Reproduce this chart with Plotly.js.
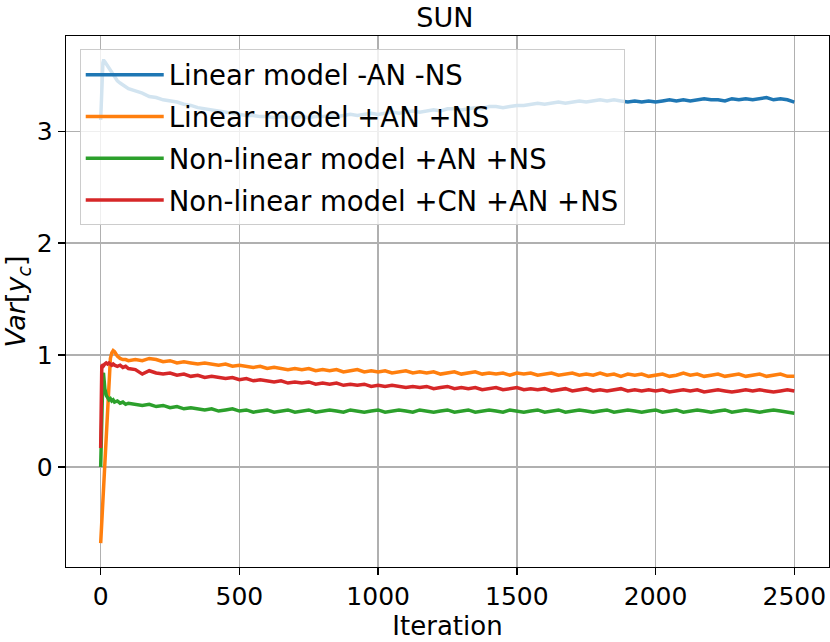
<!DOCTYPE html>
<html>
<head>
<meta charset="utf-8">
<script src="https://cdn.plot.ly/plotly-3.0.1.min.js"></script>
<style>
  html, body { margin: 0; padding: 0; background: #fff; }
  #myDiv { width: 830px; height: 642px; }
</style>
</head>
<body>
<div id="myDiv"></div>
<script>
// iterations (dense at the start, every 25 after 100)
var iterations = [
  0, 2, 4, 6, 8, 10, 12, 15, 20, 25, 30, 35, 40, 45, 50, 60, 70, 80, 90, 100,
  125, 150, 175, 200, 225, 250, 275, 300,
  325, 350, 375, 400, 425, 450, 475, 500,
  525, 550, 575, 600, 625, 650, 675, 700,
  725, 750, 775, 800, 825, 850, 875, 900,
  925, 950, 975, 1000, 1025, 1050, 1075, 1100,
  1125, 1150, 1175, 1200, 1225, 1250, 1275, 1300,
  1325, 1350, 1375, 1400, 1425, 1450, 1475, 1500,
  1525, 1550, 1575, 1600, 1625, 1650, 1675, 1700,
  1725, 1750, 1775, 1800, 1825, 1850, 1875, 1900,
  1925, 1950, 1975, 2000, 2025, 2050, 2075, 2100,
  2125, 2150, 2175, 2200, 2225, 2250, 2275, 2300,
  2325, 2350, 2375, 2400, 2425, 2450, 2475, 2500
];

var linearNoAN = [
  3.10, 3.30, 3.48, 3.57, 3.61, 3.63, 3.63, 3.62, 3.60, 3.58, 3.56, 3.54, 3.52, 3.50, 3.48, 3.45, 3.43, 3.41, 3.40, 3.38,
  3.36, 3.34, 3.31, 3.30, 3.28, 3.27, 3.26, 3.24,
  3.23, 3.21, 3.20, 3.19, 3.18, 3.17, 3.16, 3.15,
  3.14, 3.14, 3.13, 3.13, 3.12, 3.13, 3.12, 3.12,
  3.13, 3.12, 3.13, 3.13, 3.14, 3.13, 3.14, 3.15,
  3.14, 3.15, 3.16, 3.15, 3.16, 3.17, 3.16, 3.17,
  3.18, 3.17, 3.18, 3.19, 3.18, 3.20, 3.20, 3.19,
  3.20, 3.21, 3.20, 3.22, 3.22, 3.21, 3.22, 3.23,
  3.23, 3.24, 3.25, 3.24, 3.25, 3.26, 3.25, 3.26,
  3.27, 3.26, 3.27, 3.28, 3.27, 3.28, 3.27, 3.26,
  3.27, 3.26, 3.27, 3.26, 3.27, 3.28, 3.27, 3.28,
  3.27, 3.28, 3.29, 3.28, 3.28, 3.27, 3.29, 3.28,
  3.29, 3.28, 3.29, 3.30, 3.28, 3.29, 3.28, 3.26
];

var linearAN = [
  -0.68, -0.59, -0.49, -0.40, -0.30, -0.21, -0.12, 0.02, 0.26, 0.50, 0.74, 0.97, 1.02, 1.04, 1.03, 0.99, 0.97, 0.96, 0.96, 0.95,
  0.96, 0.95, 0.97, 0.96, 0.94, 0.95, 0.93, 0.94,
  0.93, 0.92, 0.93, 0.92, 0.91, 0.92, 0.90, 0.91,
  0.90, 0.89, 0.90, 0.88, 0.89, 0.88, 0.87, 0.88,
  0.87, 0.88, 0.86, 0.87, 0.86, 0.87, 0.85, 0.86,
  0.87, 0.85, 0.86, 0.85, 0.86, 0.84, 0.85, 0.86,
  0.84, 0.85, 0.84, 0.85, 0.83, 0.84, 0.85, 0.83,
  0.84, 0.85, 0.83, 0.84, 0.83, 0.84, 0.82, 0.84,
  0.83, 0.84, 0.82, 0.83, 0.84, 0.82, 0.83, 0.84,
  0.82, 0.83, 0.82, 0.84, 0.82, 0.83, 0.81, 0.83,
  0.82, 0.83, 0.81, 0.82, 0.83, 0.81, 0.82, 0.84,
  0.82, 0.83, 0.81, 0.82, 0.83, 0.81, 0.82, 0.83,
  0.81, 0.82, 0.83, 0.81, 0.82, 0.83, 0.81, 0.81
];

var nonlinearAN = [
  0.00, 0.30, 0.58, 0.76, 0.83, 0.84, 0.78, 0.70, 0.64, 0.61, 0.60, 0.61, 0.59, 0.60, 0.58, 0.59, 0.57, 0.58, 0.56, 0.57,
  0.56, 0.55, 0.56, 0.54, 0.55, 0.53, 0.54, 0.52,
  0.53, 0.52, 0.51, 0.52, 0.50, 0.51, 0.52, 0.50,
  0.51, 0.49, 0.50, 0.51, 0.49, 0.50, 0.51, 0.49,
  0.50, 0.51, 0.49, 0.50, 0.51, 0.50, 0.49, 0.51,
  0.50, 0.49, 0.50, 0.51, 0.49, 0.50, 0.51, 0.50,
  0.49, 0.51, 0.50, 0.49, 0.50, 0.51, 0.49, 0.50,
  0.51, 0.49, 0.50, 0.51, 0.50, 0.49, 0.51, 0.50,
  0.49, 0.50, 0.51, 0.49, 0.50, 0.51, 0.49, 0.50,
  0.51, 0.50, 0.49, 0.50, 0.51, 0.49, 0.50, 0.51,
  0.50, 0.49, 0.50, 0.51, 0.49, 0.50, 0.51, 0.49,
  0.50, 0.51, 0.50, 0.49, 0.50, 0.51, 0.49, 0.50,
  0.51, 0.50, 0.49, 0.50, 0.51, 0.50, 0.49, 0.48
];

var nonlinearCN = [
  0.17, 0.88, 0.90, 0.91, 0.90, 0.92, 0.91, 0.92, 0.93, 0.92, 0.93, 0.92, 0.91, 0.92, 0.91, 0.90, 0.91, 0.89, 0.90, 0.88,
  0.87, 0.83, 0.86, 0.84, 0.83, 0.84, 0.82, 0.83,
  0.81, 0.82, 0.80, 0.81, 0.80, 0.79, 0.80, 0.78,
  0.79, 0.77, 0.78, 0.77, 0.76, 0.77, 0.75, 0.76,
  0.75, 0.76, 0.74, 0.75, 0.74, 0.75, 0.73, 0.74,
  0.73, 0.74, 0.72, 0.73, 0.72, 0.73, 0.72, 0.71,
  0.72, 0.71, 0.72, 0.70, 0.71, 0.72, 0.70, 0.71,
  0.70, 0.71, 0.69, 0.70, 0.71, 0.69, 0.70, 0.71,
  0.69, 0.70, 0.69, 0.70, 0.68, 0.69, 0.70, 0.68,
  0.69, 0.70, 0.68, 0.69, 0.68, 0.69, 0.70, 0.68,
  0.69, 0.68, 0.69, 0.68, 0.69, 0.67, 0.68, 0.69,
  0.68, 0.69, 0.67, 0.68, 0.69, 0.68, 0.67, 0.68,
  0.69, 0.68, 0.69, 0.68, 0.67, 0.68, 0.69, 0.68
];

var seriesNames = [
  "Linear model -AN -NS",
  "Linear model +AN +NS",
  "Non-linear model +AN +NS",
  "Non-linear model +CN +AN +NS"
];
var seriesValues = [linearNoAN, linearAN, nonlinearAN, nonlinearCN];
var colors = ["#1f77b4", "#ff7f0e", "#2ca02c", "#d62728"];
var xTicks = [0, 500, 1000, 1500, 2000, 2500];
var yTicks = [0, 1, 2, 3];

var data = seriesNames.map(function (name, i) {
  return {
    x: iterations,
    y: seriesValues[i],
    mode: "lines",
    type: "scatter",
    name: name,
    legendgroup: "g" + i,
    line: {color: colors[i], width: 3.5}
  };
});

var font = "DejaVu Sans, sans-serif";

var layout = {
  width: 830,
  height: 642,
  margin: {l: 66, r: 1, t: 36, b: 75, pad: 0},
  paper_bgcolor: "#fff",
  plot_bgcolor: "#fff",
  font: {family: font, color: "#000"},
  title: {
    text: "SUN",
    font: {size: 27, family: font, color: "#000"},
    x: 0.536, xanchor: "center",
    y: 0.972, yanchor: "middle", yref: "container"
  },
  showlegend: true,
  legend: {
    x: 0.018, y: 0.975, xanchor: "left", yanchor: "top",
    bgcolor: "rgba(255,255,255,0.8)",
    bordercolor: "#cccccc",
    borderwidth: 1,
    tracegroupgap: 3,
    itemwidth: 78,
    font: {size: 27.5, family: font}
  },
  xaxis: {
    range: [-125, 2625],
    tickvals: xTicks,
    ticks: "outside", ticklen: 7, tickwidth: 1.3, tickcolor: "#000",
    tickfont: {size: 25},
    showgrid: true, gridcolor: "#b0b0b0", gridwidth: 1.3,
    zeroline: false,
    showline: true, linecolor: "#000", linewidth: 1.3, mirror: true,
    title: {text: "Iteration", font: {size: 26}, standoff: 4}
  },
  yaxis: {
    range: [-0.893, 3.85],
    tickvals: yTicks,
    ticks: "outside", ticklen: 7, tickwidth: 1.3, tickcolor: "#000",
    tickfont: {size: 25},
    showgrid: true, gridcolor: "#b0b0b0", gridwidth: 1.3,
    zeroline: false,
    showline: true, linecolor: "#000", linewidth: 1.3, mirror: true,
    title: {text: "<i>Var</i>[<i>y</i><sub><i>c</i></sub>]", font: {size: 27}, standoff: 8}
  }
};

Plotly.newPlot("myDiv", data, layout, {displayModeBar: false, staticPlot: true});
</script>
</body>
</html>
